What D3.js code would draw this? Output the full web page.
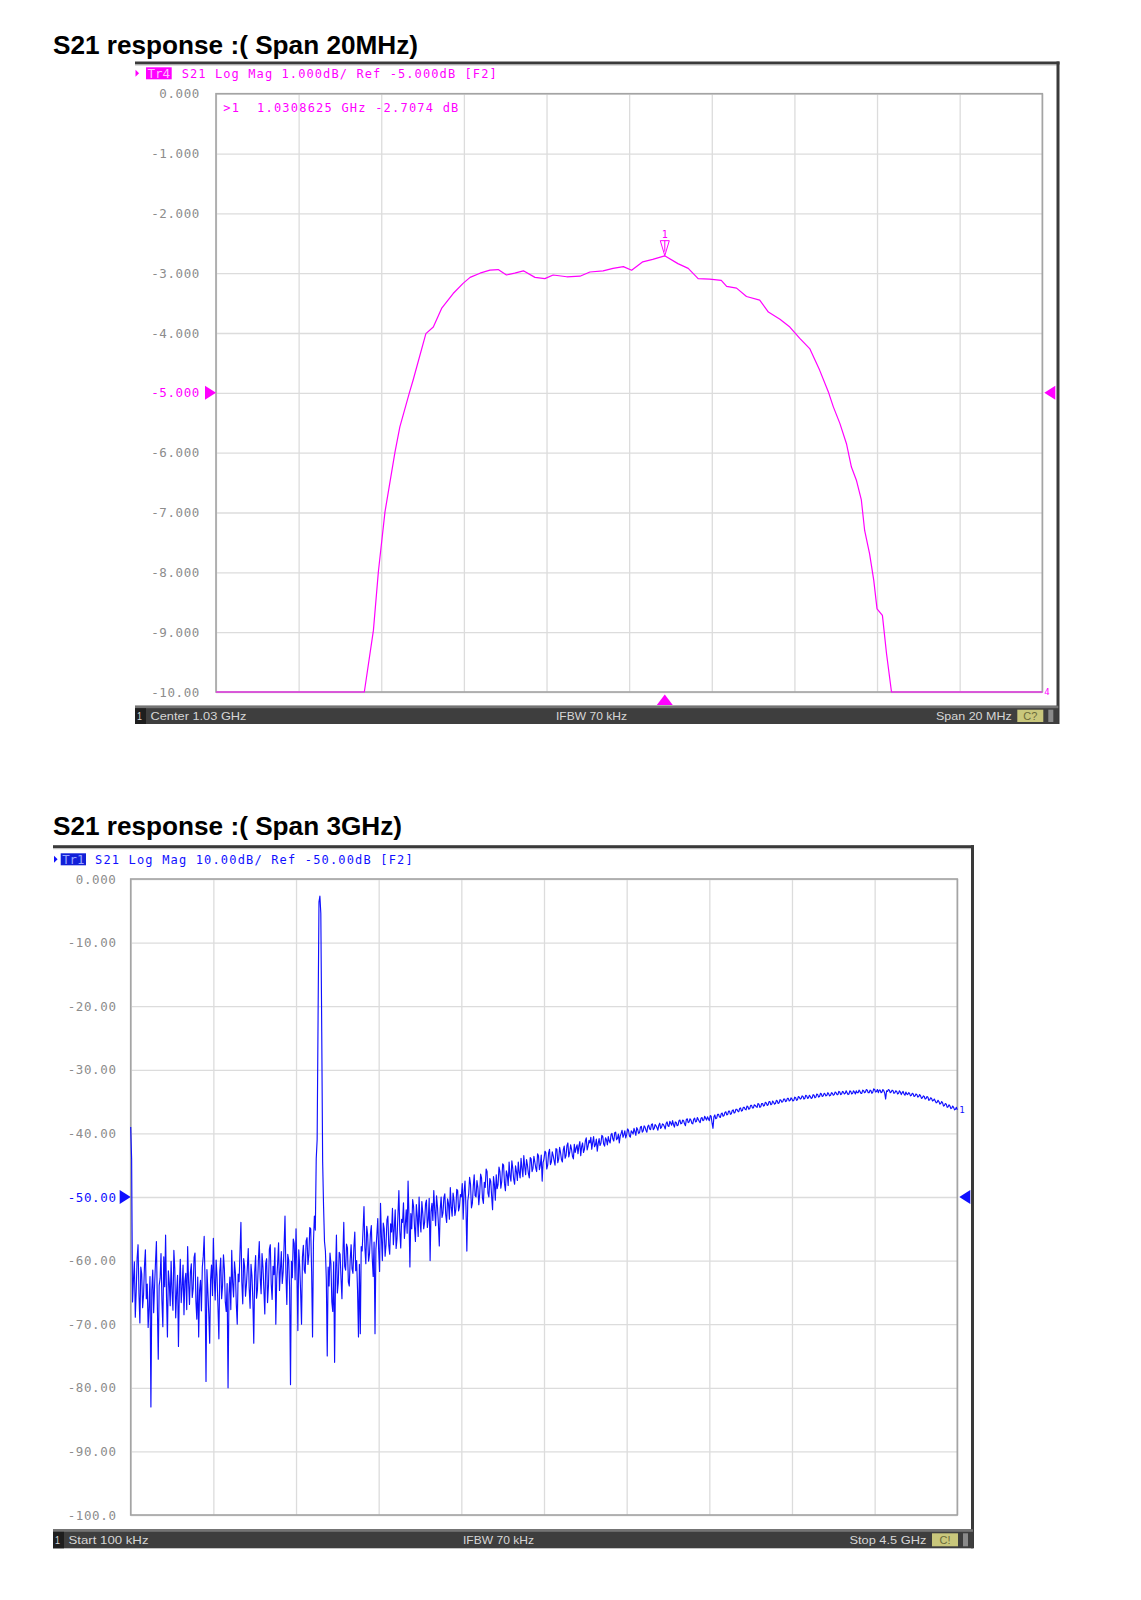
<!DOCTYPE html>
<html>
<head>
<meta charset="utf-8">
<script src="https://cdn.jsdelivr.net/npm/d3@7"></script>
<style>
    body { margin: 0; background: #fff; }
    svg { display: block; }
</style>
</head>
<body>
<svg id="page" width="1141" height="1600"></svg>
<script>
// ---------- Tr4 : span 20 MHz around 1.03 GHz ----------
const narrowFreqMHz = [
    1020.00, 1023.59, 1023.81, 1023.93, 1024.09, 1024.33, 1024.45, 1024.68, 1024.77, 1025.08,
    1025.26, 1025.46, 1025.74, 1025.98, 1026.15, 1026.39, 1026.63, 1026.83, 1027.03, 1027.23,
    1027.44, 1027.72, 1027.96, 1028.16, 1028.49, 1028.81, 1029.05, 1029.37, 1029.61, 1029.86,
    1030.06, 1030.33, 1030.57, 1030.86, 1031.18, 1031.43, 1031.67, 1031.95, 1032.23, 1032.36,
    1032.60, 1032.84, 1033.16, 1033.37, 1033.65, 1033.89, 1034.13, 1034.37, 1034.61, 1034.82,
    1034.94, 1035.10, 1035.26, 1035.38, 1035.50, 1035.62, 1035.70, 1035.82, 1035.92, 1036.00,
    1036.13, 1036.23, 1036.35, 1040.00
];
const narrowDb = [
    -10.0, -10.0, -8.97, -7.99, -6.99, -6.00, -5.57, -5.00, -4.79, -4.01,
    -3.90, -3.59, -3.34, -3.17, -3.07, -3.00, -2.95, -2.94, -3.03, -3.00,
    -2.96, -3.07, -3.09, -3.03, -3.06, -3.05, -2.98, -2.96, -2.92, -2.89,
    -2.95, -2.81, -2.77, -2.71, -2.84, -2.92, -3.09, -3.10, -3.12, -3.22,
    -3.25, -3.39, -3.45, -3.65, -3.77, -3.90, -4.09, -4.26, -4.62, -4.98,
    -5.23, -5.51, -5.85, -6.24, -6.46, -6.79, -7.30, -7.69, -8.13, -8.61,
    -8.72, -9.36, -10.0, -10.0
];
const narrowTicks = [0, -1, -2, -3, -4, -5, -6, -7, -8, -9, -10];
const narrowTickLabels = ["0.000", "-1.000", "-2.000", "-3.000", "-4.000", "-5.000",
    "-6.000", "-7.000", "-8.000", "-9.000", "-10.00"];
const narrowMarkerFreqMHz = 1030.8625;
const narrowMarkerDb = -2.7074;

// ---------- Tr1 : start 100 kHz, stop 4.5 GHz, one value per sweep point (5 MHz apart) ----------
const wideStartGHz = 0.0001;
const wideStopGHz = 4.5;
const wideDb = [
    // 0.0 GHz
    -39.0, -44.0, -66.5, -63.0, -60.2, -68.9, -64.8, -59.6, -57.5, -65.2, -69.8, -61.0, -62.1, -67.4, -65.4, -60.8, -58.3, -66.0, -63.7, -70.5,
    -67.2, -62.5, -83.0, -64.6, -61.5, -68.2, -64.0, -60.3, -57.0, -66.8, -75.5, -63.9, -62.8, -58.9, -66.3, -70.4, -59.4, -64.1, -56.0, -65.7,
    -72.0, -61.6, -63.5, -67.1, -60.1, -64.9, -67.8, -58.4, -61.2, -69.0, -65.0, -62.3, -73.5, -64.4, -59.8, -66.6, -64.2, -60.7, -68.5, -63.2,
    -62.0, -67.7, -57.8, -63.3, -66.9, -61.9, -60.5, -65.8, -64.4, -59.5, -58.8, -66.4, -69.2, -62.6, -72.0, -64.7, -63.1, -67.9, -61.0, -59.3,
    -56.2, -63.8, -79.0, -61.4, -64.8, -68.3, -73.0, -63.0, -60.7, -65.5, -56.5, -62.8, -66.2, -59.9, -62.5, -67.2, -72.3, -61.7, -59.6, -66.0,
    -64.0, -59.1, -61.3, -66.5, -68.0, -63.6, -80.0, -65.3, -62.6, -67.7, -58.4, -63.5, -65.7, -60.2, -61.9, -66.9, -70.0, -62.1, -63.3, -58.7,
    -54.0, -63.4, -66.8, -59.7, -60.9, -65.6, -63.8, -61.1, -58.1, -64.3, -67.5, -60.6, -62.4, -66.2, -73.0, -61.8, -59.2, -65.9, -64.6, -60.0,
    -57.0, -62.7, -65.2, -58.9, -61.0, -64.5, -68.4, -60.4, -59.7, -66.6, -63.9, -58.2, -57.5, -63.7, -66.1, -60.9, -62.2, -58.0, -70.0, -62.9,
    -60.4, -57.2, -64.7, -61.5, -58.6, -63.6, -61.8, -57.7, -53.0, -62.0, -66.9, -59.0, -59.9, -64.2, -79.5, -60.1, -62.7, -56.6, -57.3, -63.0,
    -55.0, -61.2, -71.0, -58.3, -60.8, -64.8, -70.0, -59.4, -57.6, -61.5, -62.0, -56.9, -56.4, -60.6, -59.0, -54.8, -55.0, -61.8, -72.0, -57.0,
    // 1.0 GHz (filter passband)
    -53.0, -55.2, -44.0, -41.0, -22.0, -3.6, -2.7, -5.4, -24.0, -44.5, -51.5, -57.0, -58.5, -63.0, -75.0, -61.0, -64.0, -58.8, -60.5, -66.5,
    -68.0, -60.2, -76.0, -62.4, -56.0, -65.1, -63.5, -58.7, -59.0, -62.8, -66.0, -59.3, -54.0, -60.9, -61.5, -57.4, -58.0, -63.4, -64.0, -59.8,
    -57.5, -61.3, -62.0, -57.9, -55.5, -61.6, -60.0, -64.7, -72.0, -60.6, -71.5, -57.8, -58.5, -55.1, -51.5, -58.0, -60.5, -54.6, -56.0, -60.1,
    -59.0, -55.8, -54.5, -59.6, -62.5, -57.1, -71.5, -58.2, -56.0, -53.4, -58.5, -61.7, -51.0, -56.3, -60.0, -54.1, -55.0, -59.3, -57.5, -53.6,
    -53.0, -57.6, -59.0, -54.2, -55.5, -51.8, -57.5, -54.9, -52.0, -58.1, -56.5, -52.7, -49.0, -55.3, -58.0, -53.5, -54.0, -50.9, -56.5, -54.4,
    -52.0, -55.7, -47.5, -53.1, -61.0, -52.6, -55.0, -50.4, -51.5, -54.7, -57.0, -51.2, -53.0, -56.2, -50.0, -53.9, -55.5, -50.7, -52.5, -55.0,
    -54.0, -51.1, -50.5, -54.8, -53.5, -50.2, -60.0, -52.3, -51.0, -53.7, -49.0, -52.0, -54.5, -49.8, -51.5, -54.2, -57.7, -51.9, -50.0, -53.2,
    -52.5, -50.1, -49.5, -52.8, -54.0, -50.3, -51.0, -53.5, -48.5, -51.6, -53.0, -49.4, -50.5, -52.9, -52.0, -48.8, -49.0, -52.2, -51.5, -49.6,
    -50.0, -47.9, -53.5, -49.2, -47.5, -51.4, -58.5, -50.6, -49.5, -46.9, -48.0, -51.7, -51.0, -48.3, -46.5, -49.8, -50.0, -47.4, -48.5, -51.2,
    -49.5, -46.4, -47.0, -50.2, -51.0, -47.7, -48.5, -45.6, -46.0, -49.4, -50.0, -47.1, -47.5, -49.9, -52.0, -46.8, -48.0, -50.5, -46.5, -48.7,
    // 2.0 GHz
    -48.0, -45.3, -46.0, -48.6, -47.5, -44.8, -45.0, -47.9, -49.0, -45.9, -46.5, -48.2, -44.5, -46.7, -47.5, -44.3, -45.5, -47.2, -48.0, -45.1,
    -46.0, -47.4, -44.5, -46.1, -47.0, -43.9, -45.5, -46.8, -43.5, -45.2, -46.5, -44.1, -45.0, -46.3, -47.0, -43.8, -44.0, -46.0, -45.5, -43.6,
    -44.5, -45.4, -46.0, -43.2, -43.5, -45.7, -45.0, -43.4, -47.5, -44.6, -44.0, -42.8, -43.0, -45.6, -45.0, -43.1, -42.5, -44.9, -44.5, -42.9,
    -43.5, -44.3, -45.0, -42.4, -42.5, -44.6, -44.0, -42.2, -43.0, -44.1, -44.5, -42.6, -42.0, -43.9, -43.5, -41.9, -41.5, -43.7, -43.0, -41.8,
    -42.5, -43.6, -44.0, -41.7, -43.0, -42.3, -41.8, -43.2, -42.0, -41.3, -43.5, -42.1, -41.5, -43.0, -42.5, -41.2, -40.7, -42.6, -42.0, -41.1,
    -41.5, -40.6, -42.5, -41.4, -40.5, -42.1, -41.8, -40.9, -42.8, -41.6, -40.8, -41.9, -41.5, -40.3, -40.5, -41.7, -42.0, -40.7, -41.0, -41.8,
    -40.5, -41.2, -41.5, -40.2, -40.0, -40.9, -41.2, -39.9, -39.8, -41.0, -40.8, -40.1, -41.5, -40.4, -40.0, -39.5, -40.6, -40.2, -39.6, -40.7,
    -40.2, -39.3, -39.5, -40.4, -40.6, -39.6, -39.8, -40.1, -39.2, -39.7, -40.3, -39.1, -39.4, -40.0, -39.9, -39.0, -38.9, -39.8, -39.6, -38.8,
    -39.0, -39.5, -39.8, -38.9, -38.7, -39.3, -39.4, -38.6, -38.5, -39.4, -39.2, -38.6, -38.8, -39.1, -39.5, -38.7, -38.4, -39.2, -39.0, -38.5,
    -38.6, -38.9, -39.3, -38.4, -38.2, -38.8, -38.9, -38.1, -38.4, -38.7, -38.0, -38.6, -39.0, -38.2, -38.3, -38.8, -38.7, -38.0, -37.9, -38.5,
    // 3.0 GHz
    -38.4, -37.9, -38.0, -38.5, -38.8, -37.8, -37.7, -38.3, -38.2, -37.7, -37.9, -38.4, -38.5, -37.8, -37.6, -38.2, -38.1, -37.5, -37.8, -38.1,
    -38.3, -37.6, -37.5, -38.0, -37.9, -37.3, -37.6, -37.9, -37.4, -37.7, -38.0, -37.2, -37.3, -38.4, -39.2, -37.4, -37.1, -37.7, -37.6, -37.0,
    -37.0, -37.4, -37.5, -36.9, -36.8, -37.3, -37.2, -36.7, -36.6, -37.1, -37.0, -36.5, -36.5, -37.0, -36.9, -36.4, -36.3, -36.8, -36.7, -36.2,
    -36.2, -36.5, -36.6, -36.1, -36.0, -36.5, -36.4, -35.9, -35.9, -36.2, -36.3, -35.7, -35.8, -36.2, -36.1, -35.6, -35.6, -36.0, -36.0, -35.5,
    -35.6, -35.8, -35.9, -35.3, -35.4, -35.9, -35.8, -35.3, -35.3, -35.7, -35.6, -35.1, -35.2, -35.6, -35.5, -35.0, -35.0, -35.5, -35.4, -34.9,
    -35.1, -35.4, -35.3, -34.8, -34.9, -35.3, -35.2, -34.7, -34.8, -35.1, -35.0, -34.6, -34.6, -35.0, -34.9, -34.5, -34.5, -34.9, -34.8, -34.4,
    -34.6, -34.9, -34.8, -34.3, -34.4, -34.8, -34.7, -34.2, -34.3, -34.6, -34.5, -34.1, -34.2, -34.6, -34.5, -34.0, -34.1, -34.5, -34.4, -34.0,
    -34.2, -34.5, -34.4, -33.9, -34.0, -34.4, -34.3, -33.8, -33.9, -34.3, -34.2, -33.7, -33.8, -34.2, -34.1, -33.7, -33.8, -34.1, -34.0, -33.6,
    -33.8, -34.1, -34.0, -33.6, -33.7, -34.0, -33.9, -33.5, -33.6, -33.9, -33.9, -33.4, -33.5, -33.9, -33.8, -33.4, -33.5, -33.8, -33.7, -33.3,
    -33.6, -33.9, -33.8, -33.3, -33.4, -33.8, -33.7, -33.3, -33.5, -33.8, -33.3, -33.6, -33.6, -33.2, -33.4, -33.7, -33.7, -33.2, -33.3, -33.6,
    // 4.0 GHz
    -33.5, -33.1, -33.2, -33.6, -33.6, -33.2, -33.3, -33.7, -33.5, -33.0, -33.1, -33.5, -33.4, -33.1, -33.6, -33.2, -33.2, -33.6, -33.5, -33.1,
    -33.3, -33.7, -34.6, -33.3, -33.4, -33.1, -33.2, -33.6, -33.5, -33.2, -33.3, -33.7, -33.6, -33.3, -33.4, -33.8, -33.7, -33.3, -33.5, -33.9,
    -33.6, -33.4, -33.8, -34.0, -33.5, -33.8, -33.9, -33.6, -33.7, -34.1, -34.0, -33.7, -33.8, -34.2, -34.1, -33.8, -33.9, -34.3, -34.2, -33.9,
    -34.1, -34.5, -34.4, -34.1, -34.2, -34.6, -34.5, -34.2, -34.3, -34.8, -34.7, -34.4, -34.5, -34.9, -34.8, -34.6, -34.9, -35.2, -35.1, -34.8,
    -35.0, -35.4, -35.3, -35.0, -35.2, -35.7, -35.6, -35.3, -35.4, -35.9, -35.8, -35.5, -35.7, -36.1, -36.0, -35.7, -35.9, -36.3, -36.2, -35.9,
    -36.3
];
const wideTicks = [0, -10, -20, -30, -40, -50, -60, -70, -80, -90, -100];
const wideTickLabels = ["0.000", "-10.00", "-20.00", "-30.00", "-40.00", "-50.00",
    "-60.00", "-70.00", "-80.00", "-90.00", "-100.0"];

const MONO = "'DejaVu Sans Mono', 'Liberation Mono', monospace";
const SANS = "'Liberation Sans', Arial, Helvetica, sans-serif";

const svg = d3.select("#page");

function drawPanel(p) {
    const g = svg.append("g");

    // title
    g.append("text")
        .attr("x", p.titleX)
        .attr("y", p.titleY)
        .attr("textLength", p.titleLen)
        .attr("lengthAdjust", "spacingAndGlyphs")
        .style("font-family", SANS)
        .style("font-size", "25px")
        .style("font-weight", "bold")
        .style("fill", "#000")
        .text(p.title);

    // instrument frame: heavy top rule and right rule
    g.append("rect")
        .attr("x", p.frameLeft).attr("y", p.frameTop - 1.5)
        .attr("width", p.frameRight - p.frameLeft + 1.5).attr("height", 3)
        .style("fill", "#3a3a3a");
    g.append("rect")
        .attr("x", p.frameLeft).attr("y", p.frameTop + 1.5)
        .attr("width", p.frameRight - p.frameLeft).attr("height", 1)
        .style("fill", "#b8b8b8");
    g.append("rect")
        .attr("x", p.frameRight - 1.5).attr("y", p.frameTop - 1.5)
        .attr("width", 3).attr("height", p.barBottom - p.frameTop + 1.5)
        .style("fill", "#3a3a3a");

    // header line
    g.append("path")
        .attr("d", `M${p.hdrTri},${p.hdrY - 3.5}L${p.hdrTri + 3.6},${p.hdrY}L${p.hdrTri},${p.hdrY + 3.5}Z`)
        .style("fill", p.color);
    g.append("rect")
        .attr("x", p.hdrBox[0]).attr("y", p.hdrY - 6)
        .attr("width", p.hdrBox[1] - p.hdrBox[0]).attr("height", 12)
        .style("fill", p.boxColor);
    g.append("text")
        .attr("x", p.hdrBox[0] + 1.5).attr("y", p.hdrY)
        .attr("dy", "0.36em")
        .attr("textLength", p.hdrBox[1] - p.hdrBox[0] - 3)
        .attr("lengthAdjust", "spacingAndGlyphs")
        .style("font-family", MONO).style("font-size", "12px")
        .style("fill", p.boxText)
        .text(p.trace);
    g.append("text")
        .attr("x", p.hdrText[0]).attr("y", p.hdrY)
        .attr("dy", "0.36em")
        .attr("textLength", p.hdrText[1] - p.hdrText[0])
        .attr("lengthAdjust", "spacing")
        .style("font-family", MONO).style("font-size", "12px")
        .style("fill", p.color)
        .text(p.header);

    const x = d3.scaleLinear().domain(p.xDomain).range([p.left, p.right]);
    const y = d3.scaleLinear().domain([p.ticks[0], p.ticks[p.ticks.length - 1]])
        .range([p.top, p.bottom]).clamp(true);

    // vertical grid, ten divisions
    const xGrid = d3.range(11).map(i => p.xDomain[0] + i * (p.xDomain[1] - p.xDomain[0]) / 10);
    g.append("g")
        .attr("transform", `translate(0,${p.bottom})`)
        .call(d3.axisBottom(x).tickValues(xGrid).tickSize(-(p.bottom - p.top)).tickFormat(""))
        .call(a => a.select(".domain").remove())
        .call(a => a.selectAll("line").style("stroke", "#dcdcdc").style("stroke-width", 1.3));

    // horizontal grid + scale labels
    g.append("g")
        .attr("transform", `translate(${p.left},0)`)
        .call(d3.axisLeft(y).tickValues(p.ticks).tickSize(-(p.right - p.left))
            .tickPadding(p.left - p.labelRight)
            .tickFormat((d, i) => p.tickLabels[i]))
        .call(a => a.select(".domain").remove())
        .call(a => a.selectAll("line").style("stroke", "#dcdcdc").style("stroke-width", 1.3))
        .call(a => a.selectAll("text")
            .style("font-family", MONO)
            .style("font-size", "12.5px")
            .style("letter-spacing", "0.6px")
            .style("fill", (d) => d === p.refLevel ? p.color : "#8c8c8c"));

    // plot border
    g.append("rect")
        .attr("x", p.left).attr("y", p.top)
        .attr("width", p.right - p.left).attr("height", p.bottom - p.top)
        .style("fill", "none").style("stroke", "#a4a4a4").style("stroke-width", 1.6);

    // reference level arrows
    const yr = y(p.refLevel);
    g.append("path")
        .attr("d", `M${p.left - 11},${yr - 7}L${p.left},${yr}L${p.left - 11},${yr + 7}Z`)
        .style("fill", p.color);
    g.append("path")
        .attr("d", `M${p.right + 13},${yr - 7}L${p.right + 2},${yr}L${p.right + 13},${yr + 7}Z`)
        .style("fill", p.color);

    // trace
    const line = d3.line().x(d => x(d.f)).y(d => y(d.v));
    g.append("path")
        .datum(p.points)
        .attr("d", line)
        .style("fill", "none")
        .style("stroke", p.color)
        .style("stroke-width", p.lineWidth)
        .style("stroke-linejoin", "round");

    // trace number at the end of the sweep
    const last = p.points[p.points.length - 1];
    g.append("text")
        .attr("x", x(last.f) + 2).attr("y", y(last.v))
        .attr("dy", "0.35em")
        .style("font-family", MONO).style("font-size", "9px")
        .style("fill", p.color)
        .text(p.trace.slice(2));

    // status bar
    const bw = p.barRight - p.frameLeft;
    g.append("rect")
        .attr("x", p.frameLeft).attr("y", p.barTop)
        .attr("width", bw).attr("height", p.barBottom - p.barTop)
        .style("fill", "#3e3e3e");
    g.append("rect")
        .attr("x", p.frameLeft).attr("y", p.barTop)
        .attr("width", bw).attr("height", 2.5)
        .style("fill", "#747474");
    g.append("rect")
        .attr("x", p.frameLeft).attr("y", p.barTop + 2.5)
        .attr("width", 11).attr("height", p.barBottom - p.barTop - 2.5)
        .style("fill", "#1e1e1e");
    const yb = (p.barTop + 2.5 + p.barBottom) / 2;
    const barText = (tx, txt, len) => g.append("text")
        .attr("x", tx).attr("y", yb).attr("dy", "0.36em")
        .attr("textLength", len).attr("lengthAdjust", "spacingAndGlyphs")
        .style("font-family", SANS).style("font-size", "11.5px")
        .style("fill", "#d6d6d6")
        .text(txt);
    barText(p.frameLeft + 2, "1", 5);
    barText(p.frameLeft + 15.5, p.barLeftText, p.barLeftLen);
    barText(p.frameLeft + p.barMidOffset, "IFBW 70 kHz", 71);
    barText(p.barRight - 46.6 - p.barRightLen, p.barRightText, p.barRightLen);
    g.append("rect")
        .attr("x", p.barRight - 41).attr("y", p.barTop + 4)
        .attr("width", 26).attr("height", p.barBottom - p.barTop - 6)
        .style("fill", "#c9c77c");
    g.append("text")
        .attr("x", p.barRight - 28).attr("y", yb).attr("dy", "0.36em")
        .attr("text-anchor", "middle")
        .style("font-family", SANS).style("font-size", "11px")
        .style("fill", "#6b6a3a")
        .text(p.calText);
    g.append("rect")
        .attr("x", p.barRight - 10).attr("y", p.barTop + 4)
        .attr("width", 5).attr("height", p.barBottom - p.barTop - 6)
        .style("fill", "#8a8a8a");

    return { g, x, y };
}

// ---------- panel 1 ----------
const narrowPoints = narrowFreqMHz.map((f, i) => ({ f, v: narrowDb[i] }));
const p1 = drawPanel({
    title: "S21 response :( Span 20MHz)", titleX: 53, titleY: 54, titleLen: 365,
    frameLeft: 135, frameRight: 1058, frameTop: 63,
    hdrY: 73.3, hdrTri: 135.5, hdrBox: [146, 171.7], hdrText: [181.7, 496.7],
    trace: "Tr4", header: "S21 Log Mag 1.000dB/ Ref -5.000dB [F2]",
    color: "#ff00ff", boxColor: "#ff00ff", boxText: "#ffb8ff", lineWidth: 1.2,
    left: 216, right: 1042.3, top: 93.7, bottom: 692, labelRight: 200,
    xDomain: [1020, 1040], ticks: narrowTicks, tickLabels: narrowTickLabels, refLevel: -5,
    points: narrowPoints,
    barTop: 705.7, barBottom: 724, barRight: 1058.3,
    barLeftText: "Center 1.03 GHz", barLeftLen: 96, barMidOffset: 421,
    barRightText: "Span 20 MHz", barRightLen: 75.7, calText: "C?"
});

// marker 1 on the passband peak
const mx = p1.x(narrowMarkerFreqMHz), my = p1.y(narrowMarkerDb);
p1.g.append("path")
    .attr("d", `M${mx - 4.5},${my - 15}L${mx + 4.5},${my - 15}L${mx},${my}Z M${mx},${my - 15}L${mx},${my - 4}`)
    .style("fill", "none").style("stroke", "#ff00ff").style("stroke-width", 1);
p1.g.append("text")
    .attr("x", mx).attr("y", my - 18)
    .attr("text-anchor", "middle")
    .style("font-family", MONO).style("font-size", "10px")
    .style("fill", "#ff00ff")
    .text("1");
p1.g.append("path")
    .attr("d", `M${mx - 8},705L${mx},694.5L${mx + 8},705Z`)
    .style("fill", "#ff00ff");
p1.g.append("text")
    .attr("x", 223.3).attr("y", 107.3).attr("dy", "0.36em")
    .attr("textLength", 235).attr("lengthAdjust", "spacing")
    .style("font-family", MONO).style("font-size", "12px")
    .style("fill", "#ff00ff")
    .style("white-space", "pre")
    .text(`>1  ${(narrowMarkerFreqMHz / 1000).toFixed(7)} GHz ${narrowMarkerDb.toFixed(4)} dB`);

// ---------- panel 2 ----------
const wideStep = (wideStopGHz - wideStartGHz) / (wideDb.length - 1);
const widePoints = wideDb.map((v, i) => ({ f: wideStartGHz + i * wideStep, v }));
drawPanel({
    title: "S21 response :( Span 3GHz)", titleX: 53, titleY: 835, titleLen: 349,
    frameLeft: 53, frameRight: 972.5, frameTop: 846.7,
    hdrY: 859.3, hdrTri: 54, hdrBox: [60.7, 86], hdrText: [95, 412.7],
    trace: "Tr1", header: "S21 Log Mag 10.00dB/ Ref -50.00dB [F2]",
    color: "#1010ff", boxColor: "#1220d8", boxText: "#9aa6ff", lineWidth: 1.15,
    left: 130.7, right: 957.3, top: 879, bottom: 1515, labelRight: 116.5,
    xDomain: [wideStartGHz, wideStopGHz], ticks: wideTicks, tickLabels: wideTickLabels, refLevel: -50,
    points: widePoints,
    barTop: 1529.3, barBottom: 1548.3, barRight: 973,
    barLeftText: "Start 100 kHz", barLeftLen: 80, barMidOffset: 410,
    barRightText: "Stop 4.5 GHz", barRightLen: 77, calText: "C!"
});
</script>
</body>
</html>
